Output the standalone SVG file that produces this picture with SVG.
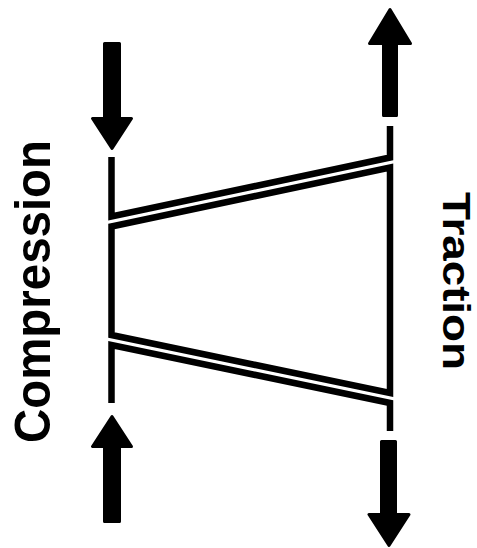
<svg xmlns="http://www.w3.org/2000/svg" width="477" height="548" viewBox="0 0 477 548">
<style>
.ln{fill:none;stroke:#000;stroke-width:6.5;stroke-linejoin:miter;stroke-miterlimit:10}
.ar{fill:#000;stroke:#000;stroke-width:3;stroke-linejoin:round}
.lbl{font-family:"Liberation Sans",Arial,sans-serif;font-weight:bold;fill:#000}
</style>
<rect width="477" height="548" fill="#fff"/>
<g id="connectors">
<polyline class="ln" points="111.5,157 111.5,216.5 390,157.5 390,126"/>
<polygon class="ln" points="111.5,226.5 390,167.5 390,393 111.5,335"/>
<polyline class="ln" points="111.5,403 111.5,345 390,403 390,431"/>
</g>
<g id="arrow-compression-top">
<polygon class="ar" points="104.5,43.5 119.5,43.5 119.5,118.5 131.5,118.5 112,148.5 92.5,118.5 104.5,118.5"/>
</g>
<g id="arrow-compression-bottom">
<polygon class="ar" points="104.5,521.5 119.5,521.5 119.5,446.5 131.5,446.5 112,416.5 92.5,446.5 104.5,446.5"/>
</g>
<g id="arrow-traction-top">
<polygon class="ar" points="383.5,115.5 396.5,115.5 396.5,43.5 410.5,43.5 390,9.5 369.5,43.5 383.5,43.5"/>
</g>
<g id="arrow-traction-bottom">
<polygon class="ar" points="381.5,441.5 395.5,441.5 395.5,514.5 409,514.5 389,545.5 369,514.5 381.5,514.5"/>
</g>
<g id="label-compression">
<text class="lbl" transform="translate(49.5,443) rotate(-90)" font-size="50" textLength="303" lengthAdjust="spacingAndGlyphs">Compression</text>
</g>
<g id="label-traction">
<text class="lbl" transform="translate(443,192) rotate(90)" font-size="39" textLength="178" lengthAdjust="spacingAndGlyphs">Traction</text>
</g>
</svg>
